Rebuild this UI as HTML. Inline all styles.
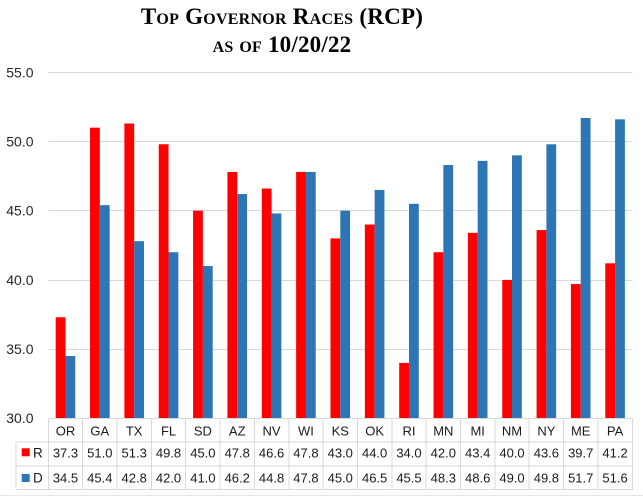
<!DOCTYPE html>
<html>
<head>
<meta charset="utf-8">
<style>
  html, body { margin:0; padding:0; background:#fff; }
  body { width:643px; height:497px; position:relative; overflow:hidden; }
  .t { position:absolute; left:0; width:564px; text-align:center; font-family:"Liberation Serif", serif; font-weight:bold; font-variant:small-caps; color:#000; white-space:nowrap; }
  svg { position:absolute; left:0; top:0; }
</style>
</head>
<body>
<div class="t" style="top:3px; font-size:23px; letter-spacing:0.25px; line-height:28px;">Top Governor Races (RCP)</div>
<div class="t" style="top:31px; font-size:23px; letter-spacing:0.2px; line-height:28px;">as of 10/20/22</div>
<svg width="643" height="497" viewBox="0 0 643 497" xmlns="http://www.w3.org/2000/svg">
  <g stroke="#d9d9d9" stroke-width="1" shape-rendering="crispEdges">
    <line x1="48.3" y1="72.5" x2="632.7" y2="72.5"/>
    <line x1="48.3" y1="141.5" x2="632.7" y2="141.5"/>
    <line x1="48.3" y1="210.5" x2="632.7" y2="210.5"/>
    <line x1="48.3" y1="280.5" x2="632.7" y2="280.5"/>
    <line x1="48.3" y1="349.5" x2="632.7" y2="349.5"/>
  </g>
  <g font-family="Liberation Sans, sans-serif" font-size="14" fill="#262626" text-anchor="end">
    <text x="33.5" y="77.5">55.0</text>
    <text x="33.5" y="146.5">50.0</text>
    <text x="33.5" y="215.5">45.0</text>
    <text x="33.5" y="285">40.0</text>
    <text x="33.5" y="354">35.0</text>
    <text x="33.5" y="423">30.0</text>
  </g>
  <g fill="#ff0000">
    <rect x="55.68" y="317.27" width="9.8" height="101.03"/>
    <rect x="90.03" y="127.66" width="9.8" height="290.64"/>
    <rect x="124.38" y="123.51" width="9.8" height="294.79"/>
    <rect x="158.73" y="144.27" width="9.8" height="274.03"/>
    <rect x="193.08" y="210.7" width="9.8" height="207.6"/>
    <rect x="227.43" y="171.95" width="9.8" height="246.35"/>
    <rect x="261.78" y="188.56" width="9.8" height="229.74"/>
    <rect x="296.13" y="171.95" width="9.8" height="246.35"/>
    <rect x="330.48" y="238.38" width="9.8" height="179.92"/>
    <rect x="364.83" y="224.54" width="9.8" height="193.76"/>
    <rect x="399.18" y="362.94" width="9.8" height="55.36"/>
    <rect x="433.53" y="252.22" width="9.8" height="166.08"/>
    <rect x="467.88" y="232.84" width="9.8" height="185.46"/>
    <rect x="502.23" y="279.9" width="9.8" height="138.4"/>
    <rect x="536.58" y="230.08" width="9.8" height="188.22"/>
    <rect x="570.93" y="284.05" width="9.8" height="134.25"/>
    <rect x="605.28" y="263.29" width="9.8" height="155.01"/>
  </g>
  <g fill="#2e75b6">
    <rect x="65.48" y="356.02" width="9.8" height="62.28"/>
    <rect x="99.83" y="205.16" width="9.8" height="213.14"/>
    <rect x="134.18" y="241.15" width="9.8" height="177.15"/>
    <rect x="168.53" y="252.22" width="9.8" height="166.08"/>
    <rect x="202.88" y="266.06" width="9.8" height="152.24"/>
    <rect x="237.23" y="194.09" width="9.8" height="224.21"/>
    <rect x="271.58" y="213.47" width="9.8" height="204.83"/>
    <rect x="305.93" y="171.95" width="9.8" height="246.35"/>
    <rect x="340.28" y="210.7" width="9.8" height="207.6"/>
    <rect x="374.63" y="189.94" width="9.8" height="228.36"/>
    <rect x="408.98" y="203.78" width="9.8" height="214.52"/>
    <rect x="443.33" y="165.03" width="9.8" height="253.27"/>
    <rect x="477.68" y="160.88" width="9.8" height="257.42"/>
    <rect x="512.03" y="155.34" width="9.8" height="262.96"/>
    <rect x="546.38" y="144.27" width="9.8" height="274.03"/>
    <rect x="580.73" y="117.97" width="9.8" height="300.33"/>
    <rect x="615.08" y="119.36" width="9.8" height="298.94"/>
  </g>
  <!-- table grid -->
  <g stroke="#d9d9d9" stroke-width="1" shape-rendering="crispEdges">
    <line x1="48.3" y1="418.5" x2="632.7" y2="418.5"/>
    <line x1="16" y1="442" x2="632.7" y2="442"/>
    <line x1="16" y1="466" x2="632.7" y2="466"/>
    <line x1="16" y1="489.5" x2="632.7" y2="489.5"/>
    <line x1="16" y1="442" x2="16" y2="489.5"/>
    <line x1="48.3" y1="418.5" x2="48.3" y2="489.5"/>
    <line x1="82.65" y1="418.5" x2="82.65" y2="489.5"/>
    <line x1="117" y1="418.5" x2="117" y2="489.5"/>
    <line x1="151.35" y1="418.5" x2="151.35" y2="489.5"/>
    <line x1="185.7" y1="418.5" x2="185.7" y2="489.5"/>
    <line x1="220.05" y1="418.5" x2="220.05" y2="489.5"/>
    <line x1="254.4" y1="418.5" x2="254.4" y2="489.5"/>
    <line x1="288.75" y1="418.5" x2="288.75" y2="489.5"/>
    <line x1="323.1" y1="418.5" x2="323.1" y2="489.5"/>
    <line x1="357.45" y1="418.5" x2="357.45" y2="489.5"/>
    <line x1="391.8" y1="418.5" x2="391.8" y2="489.5"/>
    <line x1="426.15" y1="418.5" x2="426.15" y2="489.5"/>
    <line x1="460.5" y1="418.5" x2="460.5" y2="489.5"/>
    <line x1="494.85" y1="418.5" x2="494.85" y2="489.5"/>
    <line x1="529.2" y1="418.5" x2="529.2" y2="489.5"/>
    <line x1="563.55" y1="418.5" x2="563.55" y2="489.5"/>
    <line x1="597.9" y1="418.5" x2="597.9" y2="489.5"/>
    <line x1="632.25" y1="418.5" x2="632.25" y2="489.5"/>
  </g>
  <line x1="0" y1="495.5" x2="643" y2="495.5" stroke="#e6e6e6" stroke-width="1" shape-rendering="crispEdges"/>
  <rect x="21.7" y="448.3" width="8" height="8" fill="#ff0000"/>
  <rect x="21.7" y="474" width="8" height="8" fill="#2e75b6"/>
  <g font-family="Liberation Sans, sans-serif" font-size="13.5" fill="#1a1a1a">
    <text x="33" y="457.7">R</text>
    <text x="33" y="482.7">D</text>
  </g>
  <g font-family="Liberation Sans, sans-serif" font-size="13" fill="#1a1a1a" text-anchor="middle">
    <text x="65.48" y="435.7">OR</text>
    <text x="99.83" y="435.7">GA</text>
    <text x="134.18" y="435.7">TX</text>
    <text x="168.53" y="435.7">FL</text>
    <text x="202.88" y="435.7">SD</text>
    <text x="237.23" y="435.7">AZ</text>
    <text x="271.58" y="435.7">NV</text>
    <text x="305.93" y="435.7">WI</text>
    <text x="340.28" y="435.7">KS</text>
    <text x="374.63" y="435.7">OK</text>
    <text x="408.98" y="435.7">RI</text>
    <text x="443.33" y="435.7">MN</text>
    <text x="477.68" y="435.7">MI</text>
    <text x="512.03" y="435.7">NM</text>
    <text x="546.38" y="435.7">NY</text>
    <text x="580.73" y="435.7">ME</text>
    <text x="615.08" y="435.7">PA</text>

    <text x="65.48" y="457.7">37.3</text>
    <text x="99.83" y="457.7">51.0</text>
    <text x="134.18" y="457.7">51.3</text>
    <text x="168.53" y="457.7">49.8</text>
    <text x="202.88" y="457.7">45.0</text>
    <text x="237.23" y="457.7">47.8</text>
    <text x="271.58" y="457.7">46.6</text>
    <text x="305.93" y="457.7">47.8</text>
    <text x="340.28" y="457.7">43.0</text>
    <text x="374.63" y="457.7">44.0</text>
    <text x="408.98" y="457.7">34.0</text>
    <text x="443.33" y="457.7">42.0</text>
    <text x="477.68" y="457.7">43.4</text>
    <text x="512.03" y="457.7">40.0</text>
    <text x="546.38" y="457.7">43.6</text>
    <text x="580.73" y="457.7">39.7</text>
    <text x="615.08" y="457.7">41.2</text>

    <text x="65.48" y="482.7">34.5</text>
    <text x="99.83" y="482.7">45.4</text>
    <text x="134.18" y="482.7">42.8</text>
    <text x="168.53" y="482.7">42.0</text>
    <text x="202.88" y="482.7">41.0</text>
    <text x="237.23" y="482.7">46.2</text>
    <text x="271.58" y="482.7">44.8</text>
    <text x="305.93" y="482.7">47.8</text>
    <text x="340.28" y="482.7">45.0</text>
    <text x="374.63" y="482.7">46.5</text>
    <text x="408.98" y="482.7">45.5</text>
    <text x="443.33" y="482.7">48.3</text>
    <text x="477.68" y="482.7">48.6</text>
    <text x="512.03" y="482.7">49.0</text>
    <text x="546.38" y="482.7">49.8</text>
    <text x="580.73" y="482.7">51.7</text>
    <text x="615.08" y="482.7">51.6</text>
  </g>
</svg>
</body>
</html>
